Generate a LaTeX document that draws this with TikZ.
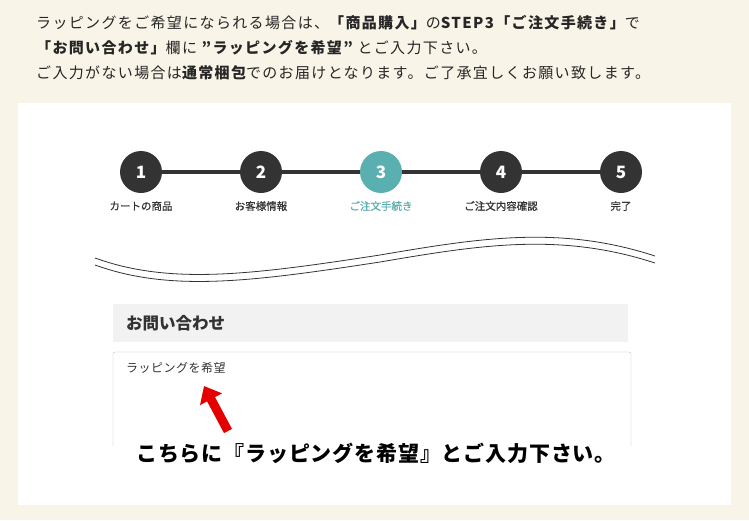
\documentclass[tikz,border=0pt]{standalone}
\usepackage{fontspec}
\usetikzlibrary{arrows.meta}
\setmainfont{Noto Sans CJK JP}
\begin{document}
\begin{tikzpicture}[x=1pt,y=-1pt,
  stepc/.style={circle,fill=stepgray,minimum size=42pt,inner sep=0,text=white,font=\fontsize{17}{17}\selectfont\bfseries},
  steplab/.style={font=\fontsize{10.5}{11}\selectfont\addfontfeature{FakeBold=0.6},text=stepgray},
  txt/.style={anchor=west,inner sep=0,font=\fontsize{15}{15}\selectfont\addfontfeature{LetterSpace=9},text=black!85}]
\definecolor{bg}{HTML}{F8F5E8}
\definecolor{stepgray}{HTML}{333333}
\definecolor{teal3}{HTML}{5AAFB0}
\useasboundingbox (0,0) rectangle (749,520);
\fill[bg] (0,0) rectangle (749,520);
\fill[white] (18,103) rectangle (731,505);
\node[txt] (l1) at (36,23) {ラッピングをご希望になられる場合は、{\bfseries\addfontfeature{LetterSpace=9} 「商品購入」}の{\bfseries\addfontfeature{LetterSpace=9} STEP3「ご注文手続き」}で};
\node[txt] (l2) at (36,48) {{\bfseries\addfontfeature{LetterSpace=9} 「お問い合わせ」}欄に {\bfseries\addfontfeature{LetterSpace=9} ”ラッピングを希望”} とご入力下さい。};
\node[txt] (l3) at (36,73) {ご入力がない場合は{\bfseries\addfontfeature{LetterSpace=9} 通常梱包}でのお届けとなります。ご了承宜しくお願い致します。};
\draw[stepgray,line width=3.5pt] (141,172) -- (621,172);
\node[stepc] (s1) at (141,172) {1};
\node[stepc] (s2) at (261,172) {2};
\node[stepc,fill=teal3] (s3) at (381,172) {3};
\node[stepc] (s4) at (501,172) {4};
\node[stepc] (s5) at (621,172) {5};
\node[steplab] (t1) at (141,206) {カートの商品};
\node[steplab] (t2) at (261,206) {お客様情報};
\node[steplab,text=teal3] (t3) at (381,206) {ご注文手続き};
\node[steplab] (t4) at (501,206) {ご注文内容確認};
\node[steplab] (t5) at (621,206) {完了};
\foreach \d in {0,7}{
 \draw[black!80,line width=0.8pt] (95,258+\d) .. controls (170,285+\d) and (250,275+\d) .. (380,255+\d) .. controls (480,238+\d) and (560,225+\d) .. (655,256+\d);
}
\fill[black!5] (113,304) rectangle (628,342);
\node[anchor=west,inner sep=0,font=\fontsize{16.5}{16}\selectfont\bfseries,text=stepgray] (h) at (126,323) {お問い合わせ};
\draw[black!25,rounded corners=2pt] (113,446) -- (113,352) -- (631,352) -- (631,446);
\node[anchor=west,inner sep=0,font=\fontsize{12}{12}\selectfont\addfontfeature{LetterSpace=4},text=black!80] (in) at (126,368) {ラッピングを希望};
\coordinate (at) at (228,431);
\coordinate (ah) at (204,386);
\draw[red!90!black,line width=9pt,-{Triangle[length=15pt,width=24pt]}] (at) -- (ah);
\fill[white] (118,437) rectangle (628,470);
\node[inner sep=0,font=\fontsize{21}{21}\selectfont\bfseries\addfontfeature{LetterSpace=4},text=black] (b) at (376,453) {こちらに『ラッピングを希望』とご入力下さい。};
\end{tikzpicture}
\end{document}
